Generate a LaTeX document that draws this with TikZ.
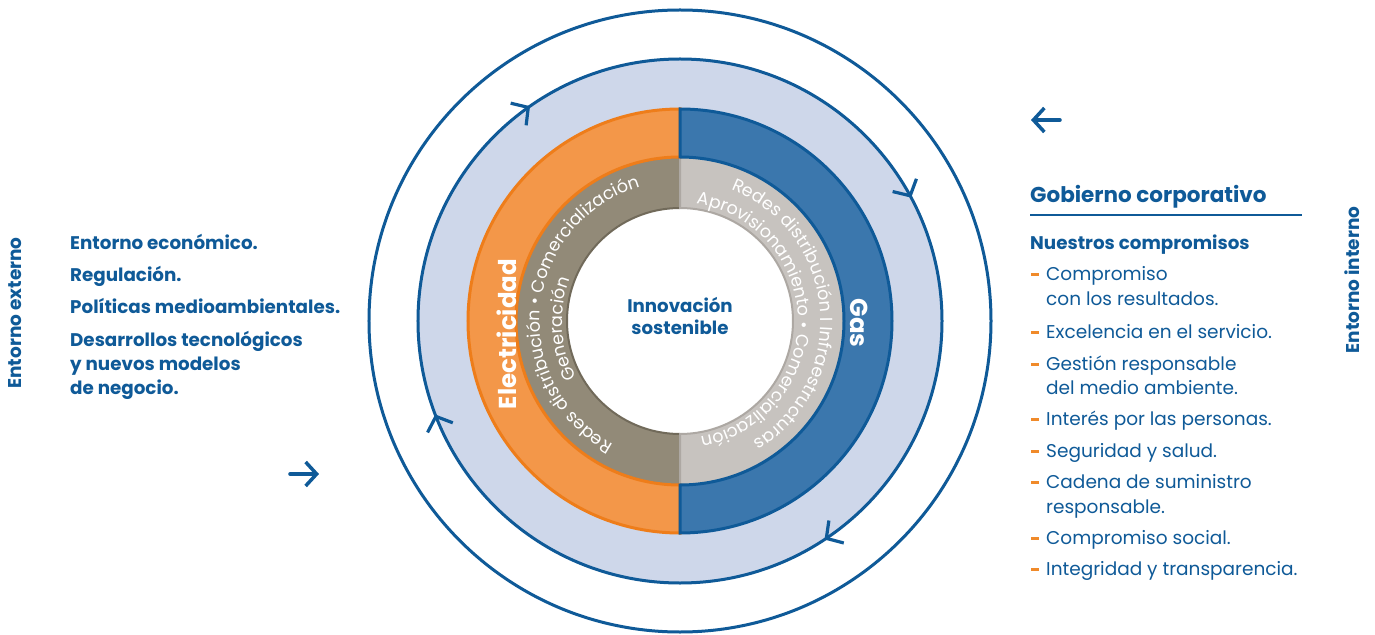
\documentclass[tikz,border=0pt]{standalone}
\usepackage{fontspec}
\setmainfont{Poppins}
\usetikzlibrary{arrows.meta, decorations.text, decorations.markings}

\definecolor{naviblue}{HTML}{0F5A98}
\definecolor{ringsky}{HTML}{CED7EA}
\definecolor{elecorange}{HTML}{F39749}
\definecolor{elecedge}{HTML}{EE7D1A}
\definecolor{gasblue}{HTML}{3B77AD}
\definecolor{elecgray}{HTML}{928A78}
\definecolor{elecgrayedge}{HTML}{716A5A}
\definecolor{gasgray}{HTML}{C7C3BF}
\definecolor{gasgrayedge}{HTML}{ADA8A3}
\definecolor{dashorange}{HTML}{F08A2A}

\newcommand{\fs}[1]{\fontsize{#1}{#1}\selectfont}
\newcommand{\ringtext}{\color{white}\fs{17.5}}

\begin{document}
\begin{tikzpicture}[x=1pt, y=1pt]
	\tikzset{listbold/.style = {anchor=base west, inner sep=0, text=naviblue, font=\fs{18.3}\bfseries}}
	\tikzset{listplain/.style = {anchor=base west, inner sep=0, text=naviblue, font=\fs{18.5}}}
	\tikzset{sidelabel/.style = {rotate=90, inner sep=0, text=naviblue, font=\fs{18.5}\bfseries}}
	\tikzset{flow/.style = {naviblue, line width=3.5pt, line cap=round, -{Straight Barb[length=11pt, width=24pt, line width=3.5pt]}}}
	\tikzset{bulletbar/.style = {dashorange, line width=3pt}}
	\tikzset{turn/.tip = {Straight Barb[length=12pt, width=27pt, line width=3.2pt]}}

	% frame
	\fill[white] (-680,-313) rectangle (695,321);
	\useasboundingbox (-680,-313) rectangle (695,321);

	% outer circle and light ring with turning arrows
	\draw[naviblue, line width=3pt] (0,0) circle[radius=311pt];
	\draw[naviblue, line width=3pt, fill=ringsky, postaction={decorate},
		decoration={markings,
			mark=at position 0.157 with {\arrow{turn}},
			mark=at position 0.442 with {\arrow{turn}},
			mark=at position 0.653 with {\arrow{turn}},
			mark=at position 0.922 with {\arrow{turn}}}]
		(262pt,0) arc[start angle=0, end angle=-360, radius=262pt] -- cycle;
	\fill[white] (0,0) circle[radius=113pt];

	% inner gray ring
	\filldraw[fill=elecgray, draw=elecgrayedge, line width=2pt]
		(90:164pt) arc[start angle=90, end angle=270, radius=164pt] -- (270:113pt)
		arc[start angle=270, end angle=90, radius=113pt] -- cycle;
	\filldraw[fill=gasgray, draw=gasgrayedge, line width=2pt]
		(90:164pt) arc[start angle=90, end angle=-90, radius=164pt] -- (-90:113pt)
		arc[start angle=-90, end angle=90, radius=113pt] -- cycle;

	% business ring
	\filldraw[fill=elecorange, draw=elecedge, line width=3pt]
		(90:212pt) arc[start angle=90, end angle=270, radius=212pt] -- (270:164pt)
		arc[start angle=270, end angle=90, radius=164pt] -- cycle;
	\filldraw[fill=gasblue, draw=naviblue, line width=3pt]
		(90:212pt) arc[start angle=90, end angle=-90, radius=212pt] -- (-90:164pt)
		arc[start angle=-90, end angle=90, radius=164pt] -- cycle;

	% activities on the gray ring
	\path[decorate, decoration={text along path, text align=center,
		text={|\ringtext|Redes distribución • Comercialización}}]
		(264:140pt) arc[start angle=264, end angle=84, radius=140pt];
	\path[decorate, decoration={text along path, text align=center,
		text={|\ringtext|Generación}}]
		(274:118pt) arc[start angle=274, end angle=94, radius=118pt];
	\path[decorate, decoration={text along path, text align=center,
		text={|\ringtext|Redes distribución I Infraestructuras}}]
		(95:141pt) arc[start angle=95, end angle=-85, radius=141pt];
	\path[decorate, decoration={text along path, text align=center,
		text={|\ringtext|Aprovisionamiento • Comercialización}}]
		(91:118pt) arc[start angle=91, end angle=-89, radius=118pt];

	\node[rotate=90, text=white, font=\fs{24.5}\bfseries] (elec) at (-173,-13) {Electricidad};
	\node[rotate=-90, text=white, font=\fs{24.5}\bfseries] (gas) at (179,-2) {Gas};
	\node[align=center, text=naviblue, font=\fs{18.2}\bfseries] (core) at (0,5) {Innovación\\[3pt]sostenible};

	% external side
	\node[sidelabel] (ext) at (-665,8) {Entorno externo};
	\node[listbold] (e1) at (-610,71) {Entorno económico.};
	\node[listbold] (e2) at (-610,39) {Regulación.};
	\node[listbold] (e3) at (-610,7) {Políticas medioambientales.};
	\node[listbold] (e4) at (-610,-25) {Desarrollos tecnológicos};
	\node[listbold] (e5) at (-610,-49) {y nuevos modelos};
	\node[listbold] (e6) at (-610,-73) {de negocio.};
	\coordinate (inS) at (-390,-153);
	\coordinate (inE) at (-361,-153);
	\draw[flow] (inS) -- (inE);

	% internal side
	\coordinate (outS) at (380,201);
	\coordinate (outE) at (351,201);
	\draw[flow] (outS) -- (outE);
	\node[sidelabel] (int) at (672,41) {Entorno interno};
	\node[listbold, font=\fs{21.5}\bfseries] (gob) at (350,118) {Gobierno corporativo};
	\coordinate (ruleS) at (350,106);
	\coordinate (ruleE) at (622,106);
	\draw[naviblue, line width=2.7pt] (ruleS) -- (ruleE);
	\node[listbold] (nues) at (350,71) {Nuestros compromisos};
	\foreach \yy/\txt [count=\k] in {40/Compromiso, 16/con los resultados.,
		-17/Excelencia en el servicio., -49/Gestión responsable, -73/del medio ambiente.,
		-104/Interés por las personas., -136/Seguridad y salud., -167/Cadena de suministro,
		-192/responsable., -223/Compromiso social., -254/Integridad y transparencia.}
		\node[listplain] (item\k) at (366,\yy) {\txt};
	\foreach \yy in {40,-17,-49,-104,-136,-167,-223,-254}
		\draw[bulletbar] (351,\yy+6) -- (359,\yy+6);
\end{tikzpicture}
\end{document}
